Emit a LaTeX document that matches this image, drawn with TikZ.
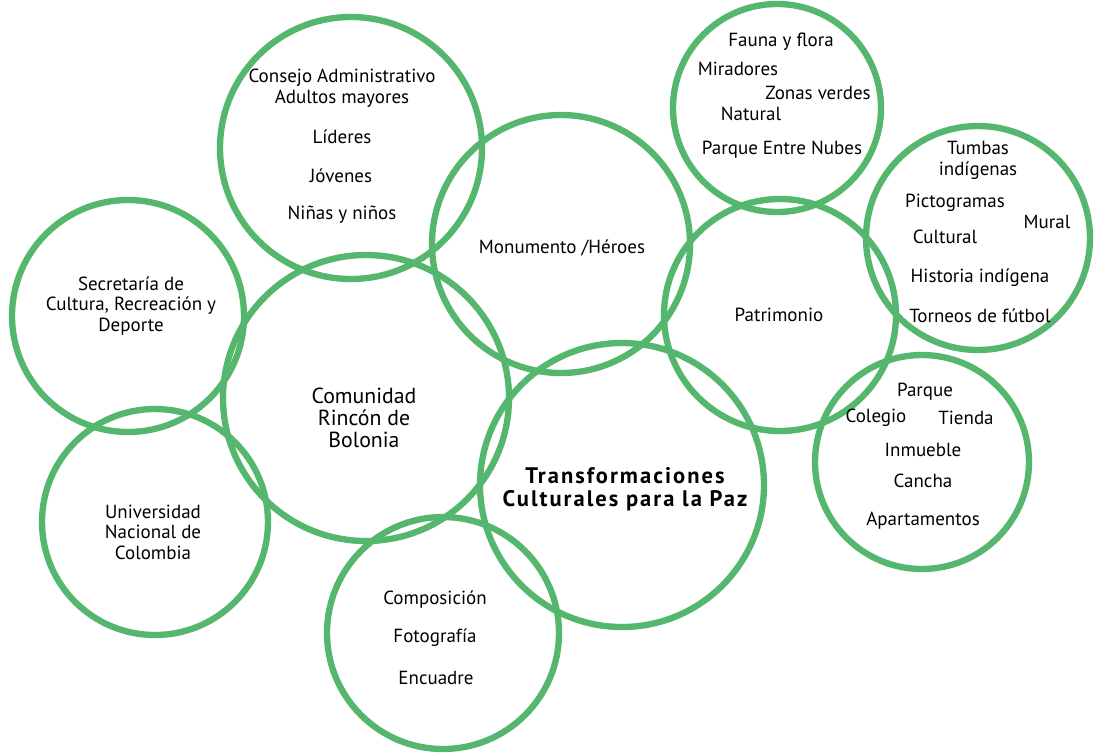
\documentclass[tikz,border=0pt]{standalone}
\usepackage{fontspec}
\setmainfont{PT Sans}
\usetikzlibrary{backgrounds}
\definecolor{leafgreen}{RGB}{85,183,110}

\begin{document}
\begin{tikzpicture}[x=0.025cm, y=-0.025cm,
  background rectangle/.style={fill=white}, show background rectangle, inner frame sep=0pt,
  ring/.style={draw=leafgreen, line width=4.5pt},
  lbl/.style={font=\fontsize{13.5}{15}\selectfont, align=center, inner sep=0pt},
  tight/.style={font=\fontsize{13.5}{14.5}\selectfont, align=center, inner sep=0pt}]

\useasboundingbox (0,0) rectangle (1094,752);

% circles
\draw[ring] (351,148) circle (131);
\draw[ring] (561,244) circle (129);
\draw[ring] (777,108) circle (104);
\draw[ring] (978,238) circle (112);
\draw[ring] (780,315) circle (116);
\draw[ring] (922,462) circle (107);
\draw[ring] (128,316) circle (116);
\draw[ring] (366,398) circle (143);
\draw[ring] (155,522) circle (113);
\draw[ring] (622,485) circle (142);
\draw[ring] (443,633) circle (116);

% people
\node[lbl] (consejo) at (342,88) {Consejo Administrativo\\Adultos mayores};
\node[lbl] (lideres) at (342,137) {Líderes};
\node[lbl] (jovenes) at (341,176) {Jóvenes};
\node[lbl] (ninos) at (342,215) {Niñas y niños};

% nature
\node[lbl] (fauna) at (781,42) {Fauna y flora};
\node[lbl] (miradores) at (738,69) {Miradores};
\node[lbl] (zonas) at (818,93) {Zonas verdes};
\node[lbl] (natural) at (751,114) {Natural};
\node[lbl] (nubes) at (782,150) {Parque Entre Nubes};

% indigenous heritage
\node[lbl] (tumbas) at (978,160) {Tumbas\\indígenas};
\node[lbl] (picto) at (955,203) {Pictogramas};
\node[lbl] (mural) at (1047,222) {Mural};
\node[lbl] (cultural) at (945,237) {Cultural};
\node[lbl] (historia) at (980,278) {Historia indígena};
\node[lbl] (torneos) at (980,316) {Torneos de fútbol};

% places
\node[lbl] (parque) at (925,392) {Parque};
\node[lbl] (colegio) at (876,418) {Colegio};
\node[lbl] (tienda) at (966,418) {Tienda};
\node[lbl] (inmueble) at (923,450) {Inmueble};
\node[lbl] (cancha) at (923,481) {Cancha};
\node[lbl] (aptos) at (923,521) {Apartamentos};

% middle
\node[lbl] (monumento) at (562,248) {Monumento /Héroes};
\node[lbl] (patrimonio) at (779,315) {Patrimonio};
\node[tight] (secretaria) at (131,306) {Secretaría de\\Cultura, Recreación y\\Deporte};
\node[tight] (unal) at (153,532) {Universidad\\Nacional de\\Colombia};
\node[align=center, inner sep=0pt, font=\fontsize{15.5}{15.5}\selectfont] (comunidad) at (364,418) {Comunidad\\Rincón de\\Bolonia};
\node[align=center, inner sep=0pt, font=\fontsize{16}{16}\selectfont\bfseries\addfontfeatures{LetterSpace=9}] (tcp) at (625,489) {Transformaciones\\Culturales para la Paz};

% photo
\node[lbl] (composicion) at (435,600) {Composición};
\node[lbl] (fotografia) at (435,638) {Fotografía};
\node[lbl] (encuadre) at (436,678) {Encuadre};

\end{tikzpicture}
\end{document}
